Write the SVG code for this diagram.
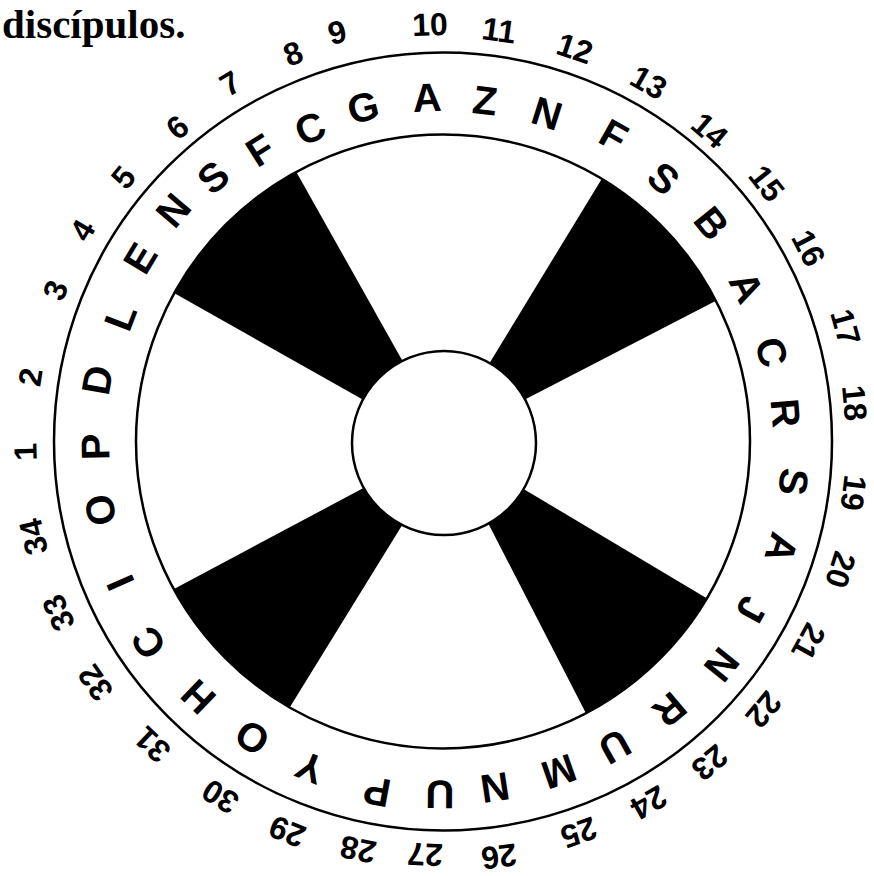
<svg xmlns="http://www.w3.org/2000/svg" width="874" height="876" viewBox="0 0 874 876">
<style>
.ring{fill:none;stroke:#000;stroke-width:2.5}
.hub{fill:#fff;stroke:#000;stroke-width:2.5}
.sec{fill:#000;stroke:none}
.lt{font-family:"Liberation Sans",Arial,sans-serif;font-weight:bold;font-size:40px;text-anchor:middle;fill:#000}
.nm{font-family:"Liberation Sans",Arial,sans-serif;font-weight:bold;font-size:32px;text-anchor:middle;fill:#000}
.ttl{font-family:"Liberation Serif","Times New Roman",serif;font-weight:bold;font-size:41px;fill:#000}
</style>
<rect width="874" height="876" fill="#fff"/>
<text class="ttl" x="2" y="38">discípulos.</text>
<g id="sectors">
<path class="sec" d="M383.1,411 L174,293.1 A307,307 0 0 1 296,171.5 L413.7,380.7 Z"/>
<path class="sec" d="M477.1,383.4 L602,178.4 A307,307 0 0 1 716,300.7 L502.9,411 Z"/>
<path class="sec" d="M500.5,475.2 L706.7,598.2 A307,307 0 0 1 585.7,712.8 L475.9,499.4 Z"/>
<path class="sec" d="M416.1,502.5 L290,707.1 A307,307 0 0 1 174,588.9 L385.9,476.1 Z"/>
</g>
<g id="rings">
<circle class="ring" cx="443" cy="441.5" r="389"/>
<circle class="ring" cx="443" cy="441.5" r="307"/>
<circle class="hub" cx="444" cy="443" r="92"/>
</g>
<g id="letters">
<text class="lt" transform="translate(95,447) rotate(269)" y="14.3">P</text>
<text class="lt" transform="translate(97,380) rotate(280)" y="14.3">D</text>
<text class="lt" transform="translate(120,317) rotate(291)" y="14.3">L</text>
<text class="lt" transform="translate(140,258) rotate(301.1)" y="14.3">E</text>
<text class="lt" transform="translate(173,210) rotate(310.5)" y="14.3">N</text>
<text class="lt" transform="translate(213,177) rotate(318.9)" y="14.3">S</text>
<text class="lt" transform="translate(260,150) rotate(327.8)" y="14.3">F</text>
<text class="lt" transform="translate(310,128) rotate(337)" y="14.3">C</text>
<text class="lt" transform="translate(363,107) rotate(346.5)" y="14.3">G</text>
<text class="lt" transform="translate(427,97) rotate(357.3)" y="14.3">A</text>
<text class="lt" transform="translate(485,100) rotate(7)" y="14.3">Z</text>
<text class="lt" transform="translate(547,113) rotate(17.6)" y="14.3">N</text>
<text class="lt" transform="translate(614,135) rotate(29.2)" y="14.3">F</text>
<text class="lt" transform="translate(664,178) rotate(40)" y="14.3">S</text>
<text class="lt" transform="translate(712,223) rotate(51)" y="14.3">B</text>
<text class="lt" transform="translate(747,287) rotate(63.1)" y="14.3">A</text>
<text class="lt" transform="translate(772,352) rotate(74.9)" y="14.3">C</text>
<text class="lt" transform="translate(786,413) rotate(85.3)" y="14.3">R</text>
<text class="lt" transform="translate(794,482) rotate(96.7)" y="14.3">S</text>
<text class="lt" transform="translate(782,548) rotate(107.5)" y="14.3">A</text>
<text class="lt" transform="translate(752,610) rotate(118.7)" y="14.3">J</text>
<text class="lt" transform="translate(722,665) rotate(128.8)" y="14.3">N</text>
<text class="lt" transform="translate(670,710) rotate(139.8)" y="14.3">R</text>
<text class="lt" transform="translate(615,747) rotate(150.7)" y="14.3">U</text>
<text class="lt" transform="translate(559,772) rotate(160.7)" y="14.3">M</text>
<text class="lt" transform="translate(495,788) rotate(171.5)" y="14.3">N</text>
<text class="lt" transform="translate(440,795) rotate(180.5)" y="14.3">U</text>
<text class="lt" transform="translate(377,792) rotate(190.6)" y="14.3">P</text>
<text class="lt" transform="translate(310,768) rotate(202.1)" y="14.3">Y</text>
<text class="lt" transform="translate(252,738) rotate(212.7)" y="14.3">O</text>
<text class="lt" transform="translate(198,697) rotate(223.7)" y="14.3">H</text>
<text class="lt" transform="translate(148,643) rotate(235.6)" y="14.3">C</text>
<text class="lt" transform="translate(120,583) rotate(246.3)" y="14.3">I</text>
<text class="lt" transform="translate(100,510) rotate(258.6)" y="14.3">O</text>
</g>
<g id="numbers">
<text class="nm" transform="translate(25,452) rotate(268.5)" y="11.5">1</text>
<text class="nm" transform="translate(30,377) rotate(278.8)" y="11.5">2</text>
<text class="nm" transform="translate(55,290) rotate(291.3)" y="11.5">3</text>
<text class="nm" transform="translate(82,230) rotate(300.3)" y="11.5">4</text>
<text class="nm" transform="translate(123,177) rotate(309.5)" y="11.5">5</text>
<text class="nm" transform="translate(177,127) rotate(319.7)" y="11.5">6</text>
<text class="nm" transform="translate(230,83) rotate(329.2)" y="11.5">7</text>
<text class="nm" transform="translate(293,53) rotate(338.9)" y="11.5">8</text>
<text class="nm" transform="translate(337,32) rotate(345.5)" y="11.5">9</text>
<text class="nm" transform="translate(430,24) rotate(358.2)" y="11.5">10</text>
<text class="nm" transform="translate(499,30) rotate(7.8)" y="11.5">11</text>
<text class="nm" transform="translate(575,48) rotate(18.6)" y="11.5">12</text>
<text class="nm" transform="translate(649,82) rotate(29.8)" y="11.5">13</text>
<text class="nm" transform="translate(710,130) rotate(40.6)" y="11.5">14</text>
<text class="nm" transform="translate(767,183) rotate(51.5)" y="11.5">15</text>
<text class="nm" transform="translate(809,248) rotate(62.2)" y="11.5">16</text>
<text class="nm" transform="translate(846,327) rotate(74.2)" y="11.5">17</text>
<text class="nm" transform="translate(855,403) rotate(84.8)" y="11.5">18</text>
<text class="nm" transform="translate(854,493) rotate(97.1)" y="11.5">19</text>
<text class="nm" transform="translate(841,570) rotate(108)" y="11.5">20</text>
<text class="nm" transform="translate(809,642) rotate(118.8)" y="11.5">21</text>
<text class="nm" transform="translate(764,710) rotate(130)" y="11.5">22</text>
<text class="nm" transform="translate(710,763) rotate(140.3)" y="11.5">23</text>
<text class="nm" transform="translate(649,803) rotate(150.4)" y="11.5">24</text>
<text class="nm" transform="translate(579,833) rotate(160.9)" y="11.5">25</text>
<text class="nm" transform="translate(499,857) rotate(172.3)" y="11.5">26</text>
<text class="nm" transform="translate(425,855) rotate(182.5)" y="11.5">27</text>
<text class="nm" transform="translate(358,850) rotate(191.7)" y="11.5">28</text>
<text class="nm" transform="translate(287,832) rotate(201.8)" y="11.5">29</text>
<text class="nm" transform="translate(220,797) rotate(212.1)" y="11.5">30</text>
<text class="nm" transform="translate(152,745) rotate(223.7)" y="11.5">31</text>
<text class="nm" transform="translate(95,683) rotate(235.2)" y="11.5">32</text>
<text class="nm" transform="translate(58,613) rotate(245.9)" y="11.5">33</text>
<text class="nm" transform="translate(33,537) rotate(256.8)" y="11.5">34</text>
</g>
</svg>
